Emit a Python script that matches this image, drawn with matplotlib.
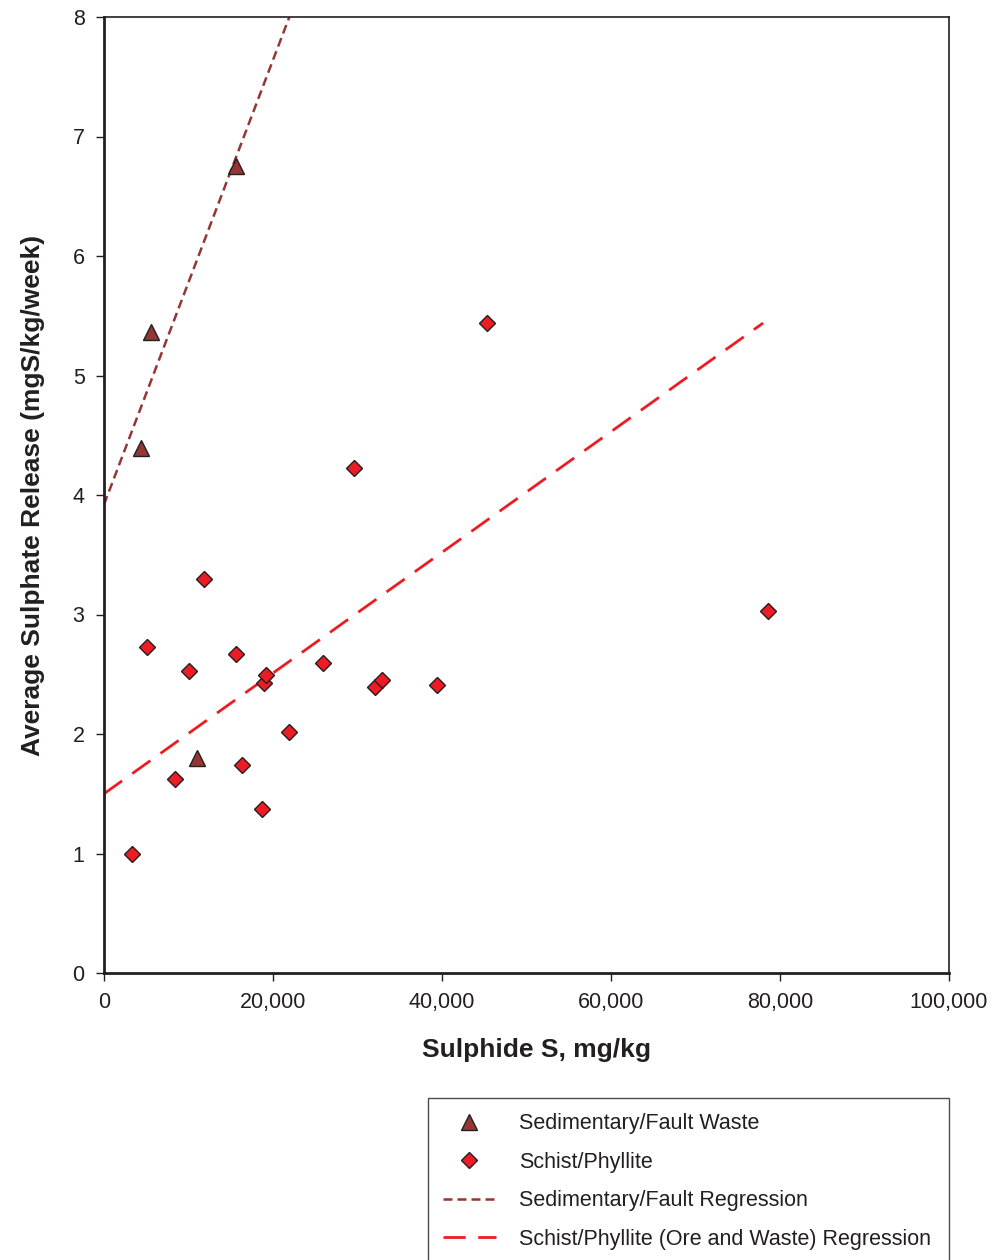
"""
Average sulphate release against sulphide content, with regression lines
"""
import numpy as np
import matplotlib.pyplot as plt

plt.rcParams["font.family"] = ["Liberation Sans", "DejaVu Sans"]

# Sedimentary / fault waste samples
sed_x = [4400, 5600, 15600, 11000]
sed_y = [4.39, 5.36, 6.75, 1.80]

# Schist / phyllite samples
sch_x = [3300, 5100, 8400, 10100, 11800, 15600, 16300, 18700, 18900, 19200,
         21900, 25900, 29600, 32100, 32900, 39400, 45300, 78600]
sch_y = [1.00, 2.73, 1.62, 2.53, 3.30, 2.67, 1.74, 1.37, 2.43, 2.49,
         2.02, 2.59, 4.23, 2.39, 2.45, 2.41, 5.44, 3.03]

# Regression fits (intercept, slope) and x extents
sed_fit = (3.92, 0.000186)
sed_range = [0, 25000]
sch_fit = (1.50, 0.0000505)
sch_range = [0, 78000]

x_ticks = [0, 20000, 40000, 60000, 80000, 100000]
y_ticks = [0, 1, 2, 3, 4, 5, 6, 7, 8]

DARK = "#943634"
RED = "#ED1C24"
INK = "#231f20"


def main() -> None:
    fig = plt.figure(figsize=(9.94, 12.6), dpi=100)
    ax = fig.add_axes([104 / 994, 1 - 973 / 1260, 845 / 994, 956 / 1260])

    sx = np.array(sed_range)
    tx = np.array(sch_range)
    l_sed, = ax.plot(sx, sed_fit[0] + sed_fit[1] * sx, color=DARK, lw=1.8,
                     dashes=(3.6, 2.0), label="Sedimentary/Fault Regression")
    l_sch, = ax.plot(tx, sch_fit[0] + sch_fit[1] * tx, color=RED, lw=2.0,
                     dashes=(8, 4.5),
                     label="Schist/Phyllite (Ore and Waste) Regression")

    p_sch, = ax.plot(sch_x, sch_y, "D", ms=8, mfc=RED, mec=INK, mew=1.0,
                     label="Schist/Phyllite", zorder=3)
    p_sed, = ax.plot(sed_x, sed_y, "^", ms=11.5, mfc=DARK, mec=INK, mew=1.0,
                     label="Sedimentary/Fault Waste", zorder=3)

    ax.set_xlim(0, 100000)
    ax.set_ylim(0, 8)
    ax.set_xticks(x_ticks)
    ax.set_xticklabels([f"{v:,}" for v in x_ticks])
    ax.set_yticks(y_ticks)
    ax.tick_params(direction="out", length=6, width=1.0, color=INK,
                   labelsize=15.5, labelcolor=INK, pad=8)
    for side, sp in ax.spines.items():
        sp.set_color(INK)
        sp.set_linewidth(2.0 if side in ("left", "bottom") else 1.2)

    ax.set_xlabel("Sulphide S, mg/kg", fontsize=19, fontweight="bold",
                  color=INK)
    ax.xaxis.set_label_coords(0.512, -0.068)
    ax.set_ylabel("Average Sulphate Release (mgS/kg/week)", fontsize=19,
                  fontweight="bold", color=INK, labelpad=20)

    leg = fig.legend(
        handles=[p_sed, p_sch, l_sed, l_sch],
        loc="upper left",
        bbox_to_anchor=(428 / 994, 0, 521 / 994, 1 - 1098 / 1260),
        mode="expand",
        borderaxespad=0,
        fontsize=15.5,
        frameon=True,
        fancybox=False,
        edgecolor=INK,
        borderpad=0.7,
        handlelength=2.45,
        handletextpad=1.1,
        labelspacing=0.82,
        markerscale=1.0,
    )
    leg.get_frame().set_linewidth(1.0)
    for t in leg.get_texts():
        t.set_color(INK)

    fig.savefig("out.png", dpi=100)


if __name__ == "__main__":
    main()
